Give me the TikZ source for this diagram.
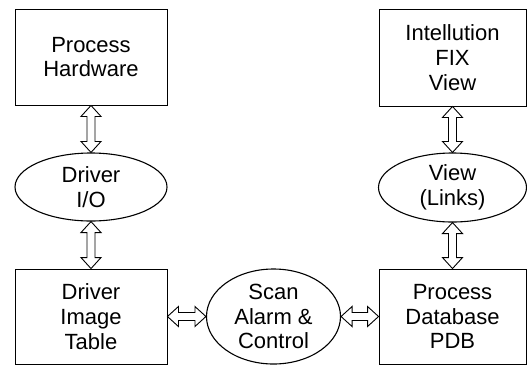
\documentclass[tikz,border=0pt]{standalone}
\usepackage{fontspec}
\setmainfont{Liberation Sans}
\usetikzlibrary{calc,shapes.geometric}

\begin{document}
\begin{tikzpicture}[x=1pt,y=-1pt,
  blk/.style args = {#1/#2}{rectangle, draw, line width=0.9pt, minimum width=#1, minimum height=#2, align=center, font=\fontsize{22}{24.7}\selectfont},
  oval/.style args = {#1/#2}{ellipse, draw, line width=1.1pt, minimum width=#1, minimum height=#2, inner sep=0pt, align=center, font=\fontsize{22}{24.7}\selectfont},
  dblarrow/.style = {draw, fill=white, line width=0.9pt, line join=miter, to path={
    -- ($(\tikztostart)!11pt!(\tikztotarget)!10pt!90:(\tikztotarget)$)
    -- ($(\tikztostart)!11pt!(\tikztotarget)!4pt!90:(\tikztotarget)$)
    -- ($(\tikztotarget)!11pt!(\tikztostart)!4pt!-90:(\tikztostart)$)
    -- ($(\tikztotarget)!11pt!(\tikztostart)!10pt!-90:(\tikztostart)$)
    -- (\tikztotarget)
    -- ($(\tikztotarget)!11pt!(\tikztostart)!10pt!90:(\tikztostart)$)
    -- ($(\tikztotarget)!11pt!(\tikztostart)!4pt!90:(\tikztostart)$)
    -- ($(\tikztostart)!11pt!(\tikztotarget)!4pt!-90:(\tikztotarget)$)
    -- ($(\tikztostart)!11pt!(\tikztotarget)!10pt!-90:(\tikztotarget)$)
    -- cycle}}]
\useasboundingbox (0,0) rectangle (527,365);
\node (hw)    [blk=152pt/96pt]  at (91,57)      {Process\\Hardware};
\node (drvio) [oval=152pt/68pt] at (91,187)     {Driver\\I/O};
\node (dit)   [blk=152pt/95pt]  at (91,316.5)   {Driver\\Image\\Table};
\node (scan)  [oval=134pt/95pt] at (273.5,316.5) {Scan\\Alarm \&\\Control};
\node (pdb)   [blk=147pt/95pt]  at (452.5,316.5) {Process\\Database\\PDB};
\node (fix)   [blk=147pt/97pt]  at (452.5,57.5)  {Intellution\\FIX\\View};
\node (links) [oval=148pt/69pt] at (452.5,187.5) {View\\(Links)};
\foreach \from/\to in {hw.south/drvio.north,drvio.south/dit.north,fix.south/links.north,links.south/pdb.north}
\path[dblarrow] (\from) to (\to);
\foreach \from/\to in {dit.east/scan.west,scan.east/pdb.west}
\path[dblarrow] (\from) to (\to);
\end{tikzpicture}
\end{document}
